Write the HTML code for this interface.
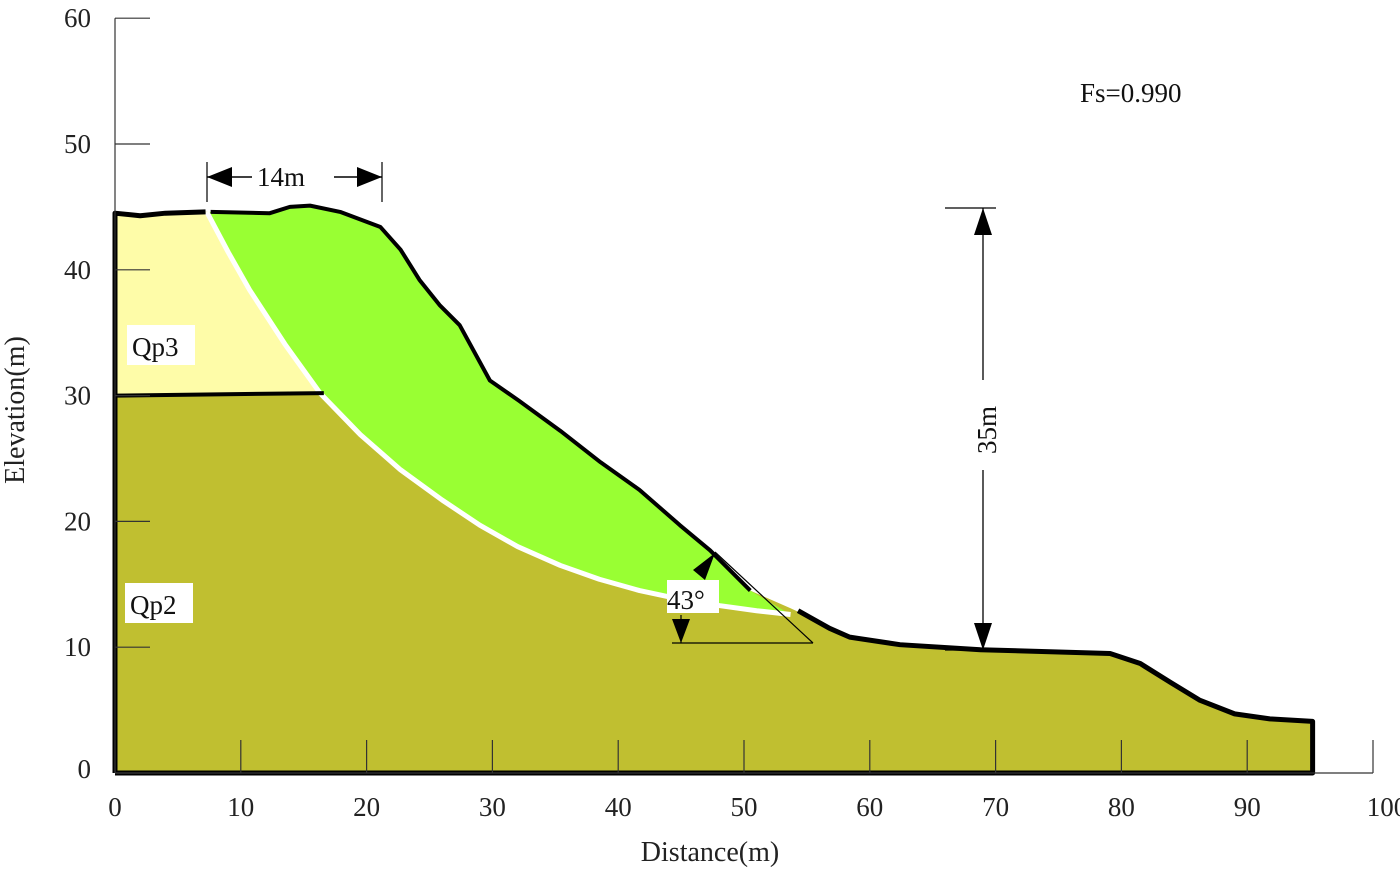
<!DOCTYPE html>
<html><head><meta charset="utf-8"><style>
html,body{margin:0;padding:0;background:#fff;}
svg{display:block;font-family:"Liberation Serif",serif;}
</style></head><body>
<svg id="chart" width="1400" height="869" viewBox="0 0 1400 869" xmlns="http://www.w3.org/2000/svg">
<g id="layers"></g>
<g id="axes"></g>
</svg>
<svg width="1400" height="869" style="position:absolute;left:0;top:0">
<g font-family="Liberation Serif,serif" fill="#111">
<rect x="127" y="325" width="68" height="40" fill="#fff"/>
<text x="132" y="356" font-size="27">Qp3</text>
<rect x="125" y="583" width="68" height="40" fill="#fff"/>
<text x="130" y="614" font-size="27">Qp2</text>
<text x="1080" y="102" font-size="27">Fs=0.990</text>
<g stroke="#000">
<line x1="207" y1="162" x2="207" y2="202" stroke-width="1.2"/><line x1="382" y1="162" x2="382" y2="202" stroke-width="1.2"/>
<line x1="207" y1="177" x2="252" y2="177" stroke-width="1.5"/><line x1="334" y1="177" x2="382" y2="177" stroke-width="1.5"/>
<path d="M207,177 L232,167 L232,187z M382,177 L357,167 L357,187z" fill="#000" stroke="none"/>
</g>
<text x="257" y="186" font-size="27">14m</text>
<g stroke="#000">
<line x1="945" y1="208" x2="996" y2="208" stroke-width="1.2"/><line x1="945" y1="650" x2="1000" y2="650" stroke-width="1.2"/>
<line x1="983" y1="208" x2="983" y2="380" stroke-width="1.3"/><line x1="983" y1="470" x2="983" y2="650" stroke-width="1.3"/>
<path d="M983,208 L974,235 L992,235z M983,650 L974,623 L992,623z" fill="#000" stroke="none"/>
</g>
<text x="0" y="0" font-size="27" text-anchor="middle" transform="translate(996,430) rotate(-90)">35m</text>
<g stroke="#000" stroke-width="1.2">
<line x1="715" y1="552" x2="813" y2="643"/><line x1="672" y1="643" x2="813" y2="643"/>
<line x1="681" y1="615" x2="681" y2="643"/>
<path d="M715,553 L693,570 L705,580z M681,643 L672,619 L690,619z" fill="#000" stroke="none"/>
</g>
<rect x="667" y="580" width="52" height="33" fill="#fff"/>
<text x="667" y="609" font-size="27">43°</text>
</g>
</svg>
<script>
const xTicks=[0,10,20,30,40,50,60,70,80,90,100];
const yTicks=[0,10,20,30,40,50,60];
const groundX=[0,2,4,7.2,12.3,13.9,15.5,17.9,21.1,22.7,24.2,25.8,27.4,29.8,32.1,35.4,38.6,41.7,44.9,47.3,50.5,53.7,55.2,56.8,58.4,62.4,68.8,79.1,81.5,83.9,86.2,89.0,91.8,95.2];
const groundY=[44.5,44.3,44.5,44.6,44.5,45.0,45.1,44.6,43.4,41.6,39.2,37.2,35.6,31.2,29.6,27.2,24.7,22.5,19.7,17.7,14.5,13.1,12.4,11.5,10.8,10.2,9.8,9.5,8.7,7.2,5.8,4.7,4.3,4.1];
const slipX=[7.3,9,10.7,13.5,16.3,19.5,22.7,26,29,32,35.4,38.5,41.7,45,48.1,51,53.7];
const slipY=[44.6,41.4,38.4,34.1,30.2,26.9,24.1,21.7,19.7,18,16.5,15.4,14.5,13.8,13.3,12.9,12.6];
const boundaryX=[0,16.6];
const boundaryY=[30.0,30.2];
(function(){
const X=v=>115+v*12.58, Y=v=>773-v*12.58;
const NS='http://www.w3.org/2000/svg';
function mk(tag,attrs,parent,txt){const e=document.createElementNS(NS,tag);for(const k in attrs)e.setAttribute(k,attrs[k]);if(txt!==undefined)e.textContent=txt;parent.appendChild(e);return e;}
const Lg=document.getElementById('layers'),Ax=document.getElementById('axes');
const pts=(xs,ys)=>xs.map((x,i)=>X(x)+','+Y(ys[i]));
const last=groundX.length-1;
let p=[X(0)+','+Y(0)].concat(pts(groundX,groundY),[X(groundX[last])+','+Y(0)]);
let e=mk('polygon',{points:p.join(' '),fill:'#c0bf30'},Lg);


let topPts=[];for(let i=0;i<groundX.length;i++){if(groundX[i]<=slipX[0])topPts.push(X(groundX[i])+','+Y(groundY[i]));}
let sl=[];for(let i=0;i<slipX.length;i++){if(slipY[i]>=boundaryY[1])sl.push(X(slipX[i])+','+Y(slipY[i]));}
p=[X(0)+','+Y(boundaryY[0])].concat(topPts,sl,[X(boundaryX[1])+','+Y(boundaryY[1])]);
e=mk('polygon',{points:p.join(' '),fill:'#fefca8'},Lg);


let g2=[];for(let i=0;i<groundX.length;i++){if(groundX[i]>slipX[0]&&groundX[i]<slipX[slipX.length-1])g2.push(X(groundX[i])+','+Y(groundY[i]));}
p=pts(slipX,slipY).reverse().concat([X(slipX[0])+','+Y(slipY[0])],g2);
e=mk('polygon',{points:p.join(' '),fill:'#99ff33'},Lg);


e=mk('polyline',{points:pts(slipX,slipY).join(' '),fill:'none',stroke:'#fff','stroke-width':5,'stroke-linejoin':'round'},Lg);


e=mk('polyline',{points:pts(boundaryX,boundaryY).join(' '),fill:'none',stroke:'#000','stroke-width':4},Lg);


let gp=pts(groundX,groundY);
let g1=[],g3=[],g4=[];
for(let i=0;i<groundX.length;i++){if(groundX[i]<=7.2)g1.push(gp[i]);if(groundX[i]>=12.3&&groundX[i]<53.7)g3.push(gp[i]);if(groundX[i]>=55.2)g4.push(gp[i]);}
e=mk('polyline',{points:[X(0)+','+Y(0)].concat(g1).join(' '),fill:'none',stroke:'#000','stroke-width':5,'stroke-linejoin':'round'},Lg);


e=mk('polyline',{points:[X(7.6)+','+Y(44.6)].concat(g3).join(' '),fill:'none',stroke:'#000','stroke-width':4,'stroke-linejoin':'round'},Lg);


e=mk('polyline',{points:[X(54.3)+','+Y(12.9)].concat(g4,[X(groundX[last])+','+Y(0),X(0)+','+Y(0)]).join(' '),fill:'none',stroke:'#000','stroke-width':5,'stroke-linejoin':'round'},Lg);


e=mk('line',{x1:X(0),y1:Y(60),x2:X(0),y2:Y(0),stroke:'#333','stroke-width':1.2},Ax);


e=mk('line',{x1:X(0),y1:Y(0),x2:X(100),y2:Y(0),stroke:'#333','stroke-width':1.2},Ax);


xTicks.forEach(t=>{let l=mk('line',{x1:X(t),y1:Y(0),x2:X(t),y2:Y(0)-33,stroke:'#333','stroke-width':1.2},Ax);


let s=mk('text',{x:X(t)+(t===100?14:0),y:816,'font-size':27,'text-anchor':'middle',fill:'#222'},Ax,String(t));

});
yTicks.forEach(t=>{let l=mk('line',{x1:X(0),y1:Y(t),x2:X(0)+35,y2:Y(t),stroke:'#333','stroke-width':1.2},Ax);


let s=mk('text',{x:91,y:Y(t)+(t===0?5:9),'font-size':27,'text-anchor':'end',fill:'#222'},Ax,String(t));

});
e=mk('text',{x:710,y:861,'font-size':28,'text-anchor':'middle',fill:'#222'},Ax,'Distance(m)');


e=mk('text',{x:0,y:0,'font-size':28,'text-anchor':'middle',fill:'#222',transform:'translate(24,410) rotate(-90)'},Ax,'Elevation(m)');


})();
</script>
</body></html>
